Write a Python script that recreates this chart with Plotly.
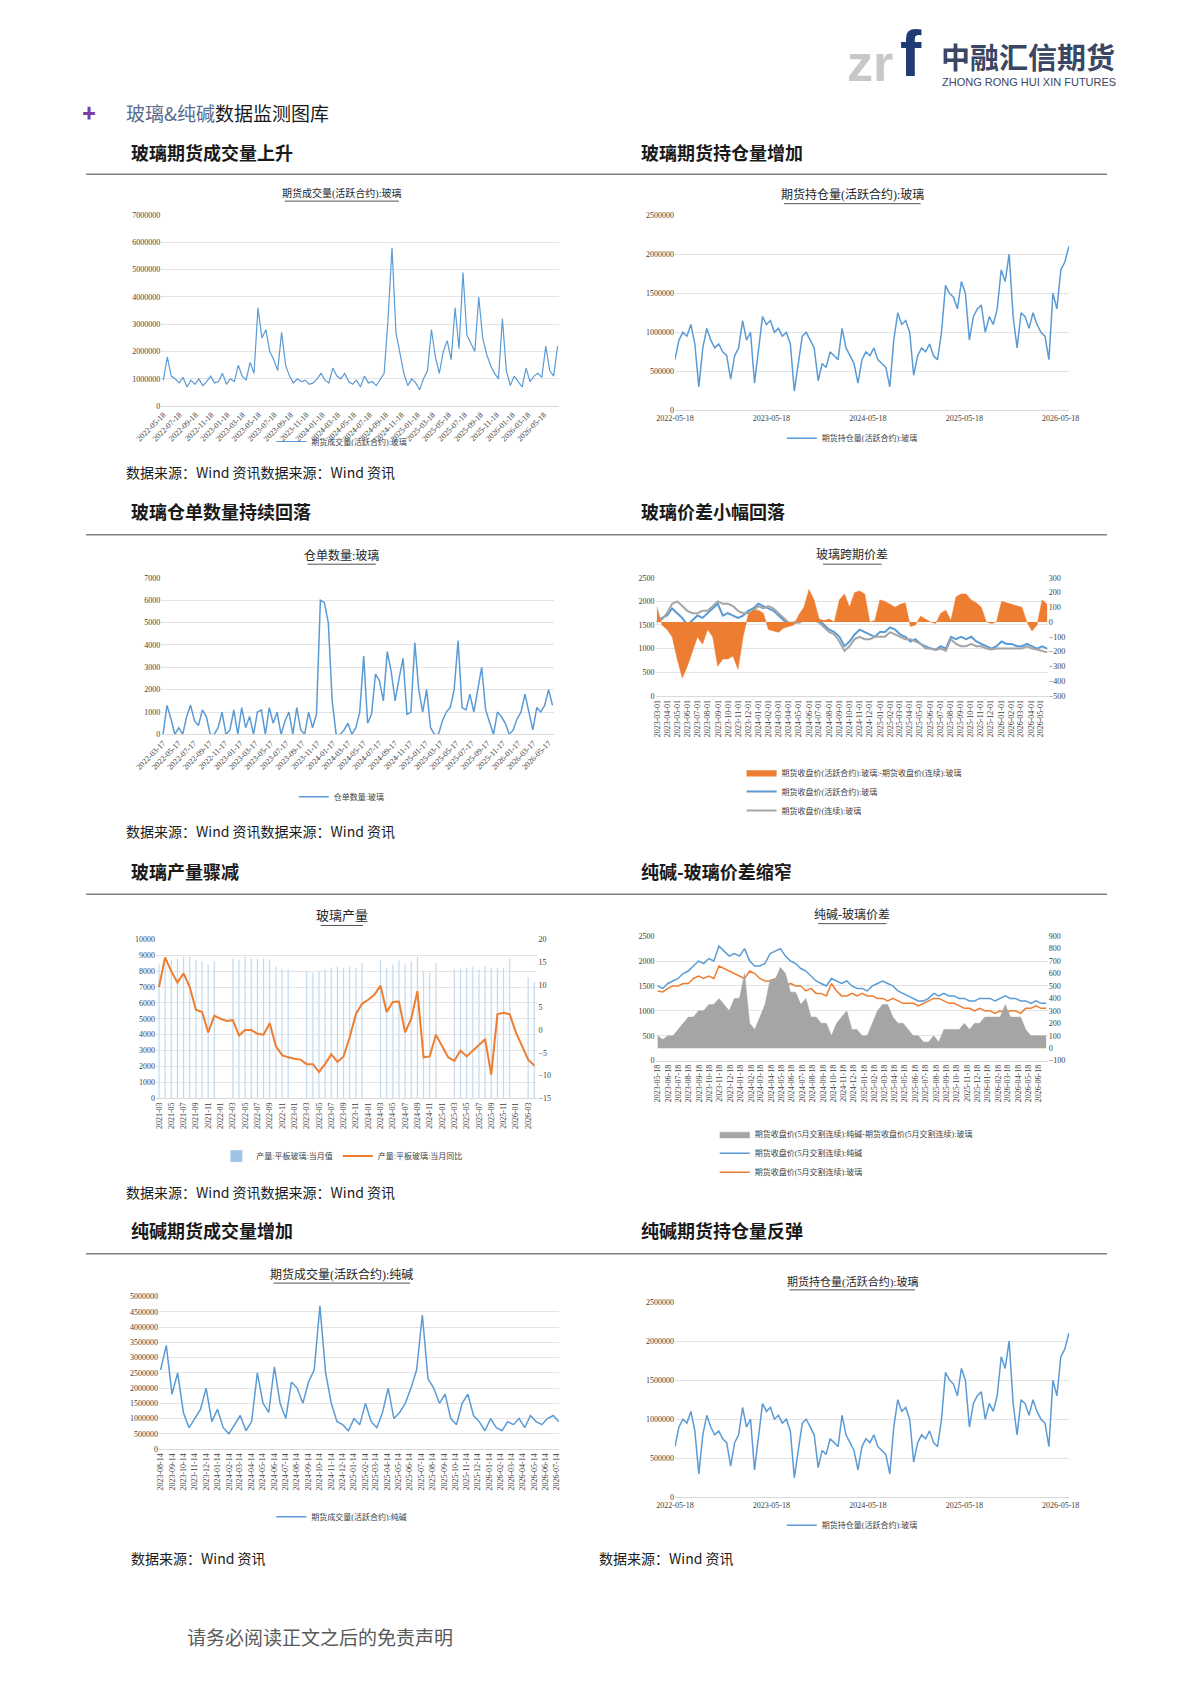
import pandas as pd
import plotly.graph_objects as go

# ---- data ----
# glass futures volume, active contract, unit 10k lots
glass_vol = [95, 180, 110, 100, 85, 105, 70, 95, 80, 100, 75, 90, 110, 85, 90, 120,
             80, 100, 90, 150, 110, 95, 160, 120, 360, 250, 280, 200, 170, 130, 270, 150,
             110, 85, 100, 90, 95, 80, 85, 100, 120, 95, 85, 140, 110, 100, 120, 90,
             80, 95, 70, 110, 85, 90, 75, 100, 120, 320, 580, 270, 190, 120, 75, 100,
             85, 60, 100, 130, 280, 180, 120, 200, 240, 170, 360, 210, 490, 260, 230, 200,
             400, 250, 190, 150, 120, 100, 320, 130, 75, 110, 90, 70, 140, 90, 110, 120,
             105, 220, 130, 110, 220]
# glass open interest, active contract, unit 10k lots
glass_oi = [65, 90, 100, 95, 110, 85, 30, 80, 105, 90, 80, 85, 75, 70, 40, 70,
            80, 115, 90, 100, 35, 80, 120, 110, 115, 100, 105, 95, 100, 85, 25, 60,
            95, 100, 90, 80, 38, 60, 55, 75, 70, 65, 105, 80, 70, 60, 35, 65,
            75, 70, 80, 65, 60, 55, 30, 90, 125, 110, 115, 100, 45, 70, 80, 75,
            85, 70, 65, 100, 160, 150, 145, 130, 165, 150, 90, 120, 130, 135, 100, 120,
            110, 130, 180, 165, 200, 120, 80, 125, 120, 105, 125, 110, 100, 95, 65, 150,
            130, 180, 190, 210]
# glass warehouse receipts
glass_receipts = [0, 1300, 700, 0, 300, 0, 800, 1300, 600, 400,
                  1100, 800, 0, 0, 300, 1000, 0, 200, 1100, 0,
                  1200, 300, 800, 0, 1000, 1100, 0, 1200, 500, 1000,
                  0, 600, 1000, 0, 1200, 200, 0, 1000, 300, 900,
                  6000, 5900, 5000, 1500, 0, 0, 200, 500, 0, 300,
                  1000, 3500, 500, 900, 2700, 2400, 1500, 3700, 2800, 1500,
                  2500, 3400, 900, 1000, 4100, 2000, 1000, 2000, 300, 0,
                  0, 600, 1000, 1200, 2000, 4200, 1200, 1100, 1800, 1000,
                  2000, 3000, 1100, 500, 0, 1000, 800, 500, 0, 200,
                  700, 1000, 1800, 1000, 200, 1200, 1000, 1300, 2000, 1300]
# glass calendar spread chart
glass_active = [1580, 1650, 1700, 1850, 1750, 1650, 1500, 1600, 1700, 1650, 1750, 1850, 1950, 1700,
                1750, 1700, 1650, 1700, 1800, 1850, 1950, 1900, 1850, 1800, 1700, 1600, 1500, 1550,
                1600, 1650, 1700, 1750, 1600, 1500, 1400, 1350, 1250, 1050, 1150, 1300, 1400, 1350,
                1300, 1250, 1350, 1350, 1450, 1400, 1300, 1250, 1150, 1200, 1100, 1050, 1000, 980,
                1050, 1000, 1250, 1200, 1250, 1200, 1250, 1150, 1100, 1050, 1000, 1050, 1150, 1100,
                1100, 1050, 1050, 1100, 1050, 1000, 1050, 1000]
glass_cont = [1560, 1620, 1750, 1950, 2000, 1900, 1800, 1750, 1750, 1800, 1800, 1900, 2000, 1950,
              1950, 1900, 1800, 1750, 1750, 1800, 1900, 1850, 1900, 1850, 1750, 1650, 1550, 1550,
              1550, 1600, 1600, 1600, 1550, 1450, 1350, 1300, 1150, 950, 1050, 1200, 1250, 1200,
              1200, 1250, 1250, 1250, 1350, 1300, 1250, 1200, 1200, 1150, 1100, 1000, 1000, 970,
              1000, 950, 1200, 1100, 1050, 1050, 1100, 1050, 1050, 1000, 980, 1000, 1000, 1000,
              1000, 1000, 1000, 1050, 1000, 980, 950, 920]
glass_spread = [100, -20, -50, -100, -250, -380, -300, -200, -100, -150, -50, -100, -300, -250,
                -250, -230, -320, -100, 50, 80, 80, 60, -50, -60, -70, -40, -30, -20,
                50, 100, 220, 150, 20, 10, 20, 0, 150, 190, 100, 200, 210, 190,
                0, 10, 150, 140, 120, 100, 120, 130, -30, -20, 40, 20, 0, -10,
                60, 80, 10, 170, 190, 190, 150, 130, 100, 0, -10, 0, 140, 130,
                120, 110, 100, 0, -60, -20, 150, 120]
# flat glass production (monthly), None where not published
prod_months = ["2021-03", "2021-04", "2021-05", "2021-06", "2021-07", "2021-08", "2021-09", "2021-10",
               "2021-11", "2021-12", "2022-01", "2022-02", "2022-03", "2022-04", "2022-05", "2022-06",
               "2022-07", "2022-08", "2022-09", "2022-10", "2022-11", "2022-12", "2023-01", "2023-02",
               "2023-03", "2023-04", "2023-05", "2023-06", "2023-07", "2023-08", "2023-09", "2023-10",
               "2023-11", "2023-12", "2024-01", "2024-02", "2024-03", "2024-04", "2024-05", "2024-06",
               "2024-07", "2024-08", "2024-09", "2024-10", "2024-11", "2024-12", "2025-01", "2025-02",
               "2025-03", "2025-04", "2025-05", "2025-06", "2025-07", "2025-08", "2025-09", "2025-10",
               "2025-11", "2025-12", "2026-01", "2026-02", "2026-03", "2026-04"]
prod_value = [8400, 8500, 8700, 8800, 8900, 8900, 8700, 8600, 8400, 8600, None, None,
              8800, 8700, 8900, 8800, 8800, 8800, 8700, 8300, 8100, 8100, None, None,
              8000, 7900, 8000, 8100, 8200, 8300, 8200, 8300, 8200, 8500, None, None,
              8700, 8200, 8400, 8700, 8400, 8600, 8900, 8000, 7900, 8500, None, None,
              8100, 8100, 8200, 8300, 8100, 8300, 8200, 8200, 8200, 8800, None, None,
              7600, 7300]
prod_yoy = [9.5, 16, 13, 10.5, 12.5, 9.5, 4.5, 4, -0.5, 3.2, 2.5, 2,
            2.2, -1.2, 0, 0, -0.8, -1, 1.5, -3.5, -5.5, -6, -6.3, -6.5,
            -7.5, -7.5, -9.2, -7.5, -5.3, -7, -5.8, -1.5, 3.5, 5.8, 6.7, 7.8,
            9.8, 4, 6.2, 6.3, -0.5, 2.5, 8.6, -6, -5.8, -1, -3.5, -6,
            -6.8, -4.5, -5.8, -4.5, -3.3, -2, -9.8, 3.5, 3.8, 3.5, -0.5, -3.5,
            -6.5, -7.8]
# soda ash vs glass
soda_close = [1500, 1450, 1550, 1600, 1650, 1750, 1800, 1900, 2000, 1950, 2050, 2000, 2300, 2200,
              2100, 2150, 2100, 2250, 2000, 1900, 1900, 1950, 2150, 2200, 2250, 2100, 2000, 1950,
              1850, 1800, 1700, 1600, 1550, 1500, 1650, 1600, 1550, 1600, 1500, 1450, 1450, 1400,
              1500, 1550, 1600, 1550, 1500, 1400, 1350, 1300, 1250, 1200, 1200, 1250, 1350, 1300,
              1350, 1300, 1300, 1250, 1250, 1200, 1200, 1250, 1250, 1250, 1200, 1250, 1300, 1250,
              1250, 1200, 1200, 1150, 1200, 1150, 1150]
glass_close5 = [1400, 1380, 1450, 1500, 1500, 1550, 1550, 1650, 1700, 1650, 1700, 1650, 1900, 1850,
                1800, 1750, 1700, 1650, 1800, 1750, 1650, 1600, 1600, 1650, 1600, 1500, 1550, 1500,
                1500, 1400, 1450, 1350, 1350, 1300, 1550, 1400, 1300, 1300, 1350, 1300, 1350, 1300,
                1300, 1250, 1250, 1200, 1250, 1200, 1150, 1150, 1150, 1100, 1150, 1200, 1250, 1250,
                1200, 1150, 1150, 1100, 1050, 1050, 1000, 1050, 1000, 1000, 950, 1000, 950, 1000,
                1000, 950, 1050, 1050, 1100, 1050, 1050]
soda_glass_gap = [100, 70, 100, 100, 150, 200, 250, 250, 300, 300, 350, 350, 400, 350,
                  300, 400, 400, 600, 200, 150, 250, 350, 550, 550, 650, 600, 450, 450,
                  350, 400, 250, 250, 200, 200, 100, 200, 250, 300, 150, 150, 100, 100,
                  200, 300, 350, 350, 250, 200, 200, 150, 100, 100, 50, 50, 100, 50,
                  150, 150, 150, 150, 200, 150, 200, 200, 250, 250, 250, 250, 350, 250,
                  250, 250, 150, 100, 100, 100, 100]
# soda ash futures volume, unit 10k lots
soda_vol = [260, 340, 180, 250, 120, 70, 100, 130, 200, 90, 130, 70, 50, 80, 110, 60,
            90, 250, 150, 120, 270, 150, 100, 220, 200, 150, 220, 260, 470, 250, 150, 90,
            80, 60, 100, 80, 150, 90, 70, 120, 200, 100, 120, 150, 200, 260, 440, 230,
            200, 150, 180, 100, 80, 150, 180, 110, 90, 60, 100, 70, 60, 90, 80, 100,
            70, 110, 90, 80, 100, 110, 90]

d_gvol = pd.date_range("2022-05-18", "2026-07-10", periods=len(glass_vol))
d_goi = pd.date_range("2022-05-18", "2026-06-18", periods=len(glass_oi))
d_rec = pd.date_range("2022-03-17", "2026-06-01", periods=len(glass_receipts))
d_spr = pd.date_range("2023-03-01", "2026-05-20", periods=len(glass_active))
d_sg = pd.date_range("2023-05-18", "2026-07-10", periods=len(soda_close))
d_svol = pd.date_range("2023-08-14", "2026-07-20", periods=len(soda_vol))

W, H = 1190, 1683
BLUE = "#5b9bd5"
ORANGE = "#ed7d31"
GRAY = "#a5a5a5"
TXT = "#404040"
FONT = "Liberation Serif, Noto Sans CJK SC"


# positions are measured on the reference picture; map them to page pixels
def sx(v):
    return (v - 32.5) / 0.9016


def sy(v):
    return (v - 10.7) / 0.927


def xd(a, b):
    return [sx(a) / W, sx(b) / W]


def yd(top, bottom):
    return [1 - sy(bottom) / H, 1 - sy(top) / H]


def xaxis(dom, anchor, **kw):
    d = dict(domain=xd(*dom), anchor=anchor, showgrid=False, showline=True,
             linecolor="#d9d9d9", ticks="", tickfont=dict(size=8, color=TXT, family=FONT))
    d.update(kw)
    return d


def yaxis(dom, anchor, **kw):
    d = dict(domain=yd(*dom), anchor=anchor, showgrid=True, gridcolor="#e3e3e3", tickformat="d",
             zeroline=False, showline=False, tickfont=dict(size=8, color=TXT, family=FONT))
    d.update(kw)
    return d


fig = go.Figure()

# 1 glass volume
fig.add_trace(go.Scatter(x=d_gvol, y=[v * 10000 for v in glass_vol], mode="lines",
                         line=dict(color=BLUE, width=1.2), name="期货成交量(活跃合约):玻璃",
                         xaxis="x", yaxis="y", legend="legend"))
# 2 glass open interest
fig.add_trace(go.Scatter(x=d_goi, y=[v * 10000 for v in glass_oi], mode="lines",
                         line=dict(color=BLUE, width=1.5), name="期货持仓量(活跃合约):玻璃",
                         xaxis="x2", yaxis="y2", legend="legend2"))
# 3 receipts
fig.add_trace(go.Scatter(x=d_rec, y=glass_receipts, mode="lines", line=dict(color=BLUE, width=1.5),
                         name="仓单数量:玻璃", xaxis="x3", yaxis="y3", legend="legend3"))
# 4 spread
fig.add_trace(go.Scatter(x=d_spr, y=glass_spread, mode="lines", fill="tozeroy", fillcolor=ORANGE,
                         line=dict(color=ORANGE, width=0.5),
                         name="期货收盘价(活跃合约):玻璃:-期货收盘价(连续):玻璃",
                         xaxis="x4", yaxis="y9", legend="legend4"))
fig.add_trace(go.Scatter(x=d_spr, y=glass_active, mode="lines", line=dict(color=BLUE, width=2),
                         name="期货收盘价(活跃合约):玻璃", xaxis="x4", yaxis="y4", legend="legend4"))
fig.add_trace(go.Scatter(x=d_spr, y=glass_cont, mode="lines", line=dict(color=GRAY, width=2),
                         name="期货收盘价(连续):玻璃", xaxis="x4", yaxis="y4", legend="legend4"))
# 5 production
fig.add_trace(go.Bar(x=prod_months, y=prod_value, marker=dict(color="#9dc3e6"), width=0.15,
                     name="产量:平板玻璃:当月值", xaxis="x5", yaxis="y5", legend="legend5"))
fig.add_trace(go.Scatter(x=prod_months, y=prod_yoy, mode="lines", line=dict(color=ORANGE, width=2),
                         name="产量:平板玻璃:当月同比", xaxis="x5", yaxis="y10", legend="legend5"))
# 6 soda - glass
fig.add_trace(go.Scatter(x=d_sg, y=soda_glass_gap, mode="lines", fill="tozeroy", fillcolor=GRAY,
                         line=dict(color=GRAY, width=0.5),
                         name="期货收盘价(5月交割连续):纯碱-期货收盘价(5月交割连续):玻璃",
                         xaxis="x6", yaxis="y11", legend="legend6"))
fig.add_trace(go.Scatter(x=d_sg, y=soda_close, mode="lines", line=dict(color=BLUE, width=1.5),
                         name="期货收盘价(5月交割连续):纯碱", xaxis="x6", yaxis="y6", legend="legend6"))
fig.add_trace(go.Scatter(x=d_sg, y=glass_close5, mode="lines", line=dict(color=ORANGE, width=1.5),
                         name="期货收盘价(5月交割连续):玻璃", xaxis="x6", yaxis="y6", legend="legend6"))
# 7 soda volume
fig.add_trace(go.Scatter(x=d_svol, y=[v * 10000 for v in soda_vol], mode="lines",
                         line=dict(color=BLUE, width=1.5), name="期货成交量(活跃合约):纯碱",
                         xaxis="x7", yaxis="y7", legend="legend7"))
# 8 open interest again
fig.add_trace(go.Scatter(x=d_goi, y=[v * 10000 for v in glass_oi], mode="lines",
                         line=dict(color=BLUE, width=1.5), name="期货持仓量(活跃合约):玻璃",
                         xaxis="x8", yaxis="y8", legend="legend8"))

# plot areas on the reference: (x0, x1), (top, bottom)
P1 = ((150, 520), (200, 378))
P2 = ((628, 995), (200, 382))
P3 = ((150, 515), (538, 684))
P4 = ((610, 975), (538, 648))
P5 = ((145, 500), (875, 1023))
P6 = ((610, 975), (872, 988))
P7 = ((148, 520), (1208, 1350))
P8 = ((628, 995), (1213, 1395))

rfont = dict(size=8, color=TXT, family=FONT)
layout = dict(
    width=W, height=H, margin=dict(l=0, r=0, t=0, b=0),
    paper_bgcolor="white", plot_bgcolor="white", font=dict(family=FONT, color=TXT),
    showlegend=True, barmode="overlay",
    xaxis=xaxis(P1[0], "y", type="date", tick0="2022-05-18", dtick="M2", tickformat="%Y-%m-%d",
                tickangle=-45, range=["2022-05-10", "2026-07-15"]),
    yaxis=yaxis(P1[1], "x", range=[0, 7000000], dtick=1000000),
    xaxis2=xaxis(P2[0], "y2", type="date", tick0="2022-05-18", dtick="M12", tickformat="%Y-%m-%d",
                 range=["2022-05-18", "2026-06-20"]),
    yaxis2=yaxis(P2[1], "x2", range=[0, 2500000], dtick=500000),
    xaxis3=xaxis(P3[0], "y3", type="date", tick0="2022-03-17", dtick="M2", tickformat="%Y-%m-%d",
                  tickangle=-45, range=["2022-03-10", "2026-06-05"]),
    yaxis3=yaxis(P3[1], "x3", range=[0, 7000], dtick=1000),
    xaxis4=xaxis(P4[0], "y4", type="date", tick0="2023-03-01", dtick="M1", tickformat="%Y-%m-%d",
                  tickangle=-90, range=["2023-02-25", "2026-05-22"]),
    yaxis4=yaxis(P4[1], "x4", range=[0, 2500], dtick=500),
    yaxis9=dict(overlaying="y4", side="right", anchor="x4", range=[-500, 300], dtick=100,
                showgrid=False, zeroline=False, tickfont=rfont),
    xaxis5=xaxis(P5[0], "y5", type="category", tickangle=-90,
                  tickvals=prod_months[::2], ticktext=prod_months[::2]),
    yaxis5=yaxis(P5[1], "x5", range=[0, 10000], dtick=1000),
    yaxis10=dict(overlaying="y5", side="right", anchor="x5", range=[-15, 20], dtick=5,
                 showgrid=False, zeroline=False, tickfont=rfont),
    xaxis6=xaxis(P6[0], "y6", type="date", tick0="2023-05-18", dtick="M1", tickformat="%Y-%m-%d",
                  tickangle=-90, range=["2023-05-12", "2026-07-15"]),
    yaxis6=yaxis(P6[1], "x6", range=[0, 2500], dtick=500),
    yaxis11=dict(overlaying="y6", side="right", anchor="x6", range=[-100, 900], dtick=100,
                 showgrid=False, zeroline=False, tickfont=rfont),
    xaxis7=xaxis(P7[0], "y7", type="date", tick0="2023-08-14", dtick="M1", tickformat="%Y-%m-%d",
                  tickangle=-90, range=["2023-08-10", "2026-07-20"]),
    yaxis7=yaxis(P7[1], "x7", range=[0, 5000000], dtick=500000),
    xaxis8=xaxis(P8[0], "y8", type="date", tick0="2022-05-18", dtick="M12", tickformat="%Y-%m-%d",
                  range=["2022-05-18", "2026-06-20"]),
    yaxis8=yaxis(P8[1], "x8", range=[0, 2500000], dtick=500000),
)


def leg(cx, y, vertical=False):
    return dict(x=sx(cx) / W, y=1 - sy(y) / H, xanchor="left" if vertical else "center",
                yanchor="middle" if not vertical else "top",
                orientation="v" if vertical else "h", bgcolor="rgba(0,0,0,0)",
                font=dict(size=8, color=TXT, family=FONT), itemwidth=30, tracegroupgap=0)


layout["legend"] = leg(318, 411)
layout["legend2"] = leg(793, 408)
layout["legend3"] = leg(318, 742)
layout["legend4"] = leg(690, 706, vertical=True)
layout["legend5"] = leg(318, 1077)
layout["legend6"] = leg(665, 1043, vertical=True)
layout["legend7"] = leg(318, 1413)
layout["legend8"] = leg(793, 1421)
fig.update_layout(**layout)

ann = []
shapes = []


def text(x, y, s, size=11, color="#000000", bold=False, anchor="left", family="Noto Sans CJK SC"):
    ann.append(dict(x=sx(x) / W, y=1 - sy(y) / H, xref="paper", yref="paper",
                    text=f"<b>{s}</b>" if bold else s,
                    showarrow=False, xanchor=anchor, yanchor="middle",
                    font=dict(size=size, color=color, family=family)))


# logo
text(786, 58, "<b>zr</b>", size=52, color="#c8c8c8", family="Liberation Sans")
text(836, 50, "<b>f</b>", size=64, color="#1f3b73", family="Liberation Sans")
text(874, 52, "中融汇信期货", size=29, color="#3a4663", bold=True)
text(875, 76, "ZHONG RONG HUI XIN FUTURES", size=11, color="#3a4663", family="Liberation Sans")
# section title
text(74, 104, "✚", size=14, color="#7b3fa0")
text(115, 104, "<span style='color:#5a6b8c'>玻璃&纯碱</span>数据监测图库", size=19, color="#1a1a1a")

heads = [(120, 141, "玻璃期货成交量上升"), (595, 141, "玻璃期货持仓量增加"),
         (120, 476, "玻璃仓单数量持续回落"), (595, 476, "玻璃价差小幅回落"),
         (120, 811, "玻璃产量骤减"), (595, 811, "纯碱-玻璃价差缩窄"),
         (120, 1146, "纯碱期货成交量增加"), (595, 1146, "纯碱期货持仓量反弹")]
for x, y, s in heads:
    text(x, y, s, size=18, color="#1a1a1a", bold=True)
for y in (162, 498, 833, 1168):
    shapes.append(dict(type="line", xref="paper", yref="paper", x0=sx(80) / W, x1=sx(1030) / W,
                       y0=1 - sy(y) / H, y1=1 - sy(y) / H, line=dict(color="#808080", width=1.5)))

titles = [(318, 180, "期货成交量(活跃合约):玻璃", 10), (793, 181, "期货持仓量(活跃合约):玻璃", 12),
          (318, 517, "仓单数量:玻璃", 12), (793, 517, "玻璃跨期价差", 12),
          (318, 853, "玻璃产量", 13), (793, 852, "纯碱-玻璃价差", 12),
          (318, 1187, "期货成交量(活跃合约):纯碱", 12), (793, 1194, "期货持仓量(活跃合约):玻璃", 11)]
for x, y, s, sz in titles:
    text(x, y, s, size=sz, color="#262626", anchor="center", family=FONT)
    half = len(s) * sz * 0.42
    shapes.append(dict(type="line", xref="paper", yref="paper",
                       x0=(sx(x) - half) / W, x1=(sx(x) + half) / W,
                       y0=1 - (sy(y) + sz * 0.75) / H, y1=1 - (sy(y) + sz * 0.75) / H,
                       line=dict(color="#262626", width=0.8)))

src = "数据来源：Wind 资讯"
for y in (439, 774, 1110):
    text(115, y, src + src, size=14, color="#1a1a1a")
text(120, 1452, src, size=14, color="#1a1a1a")
text(555, 1452, src, size=14, color="#1a1a1a")
text(172, 1525, "请务必阅读正文之后的免责声明", size=19, color="#595959")

fig.update_layout(annotations=ann, shapes=shapes)
fig.write_html("out.html")
